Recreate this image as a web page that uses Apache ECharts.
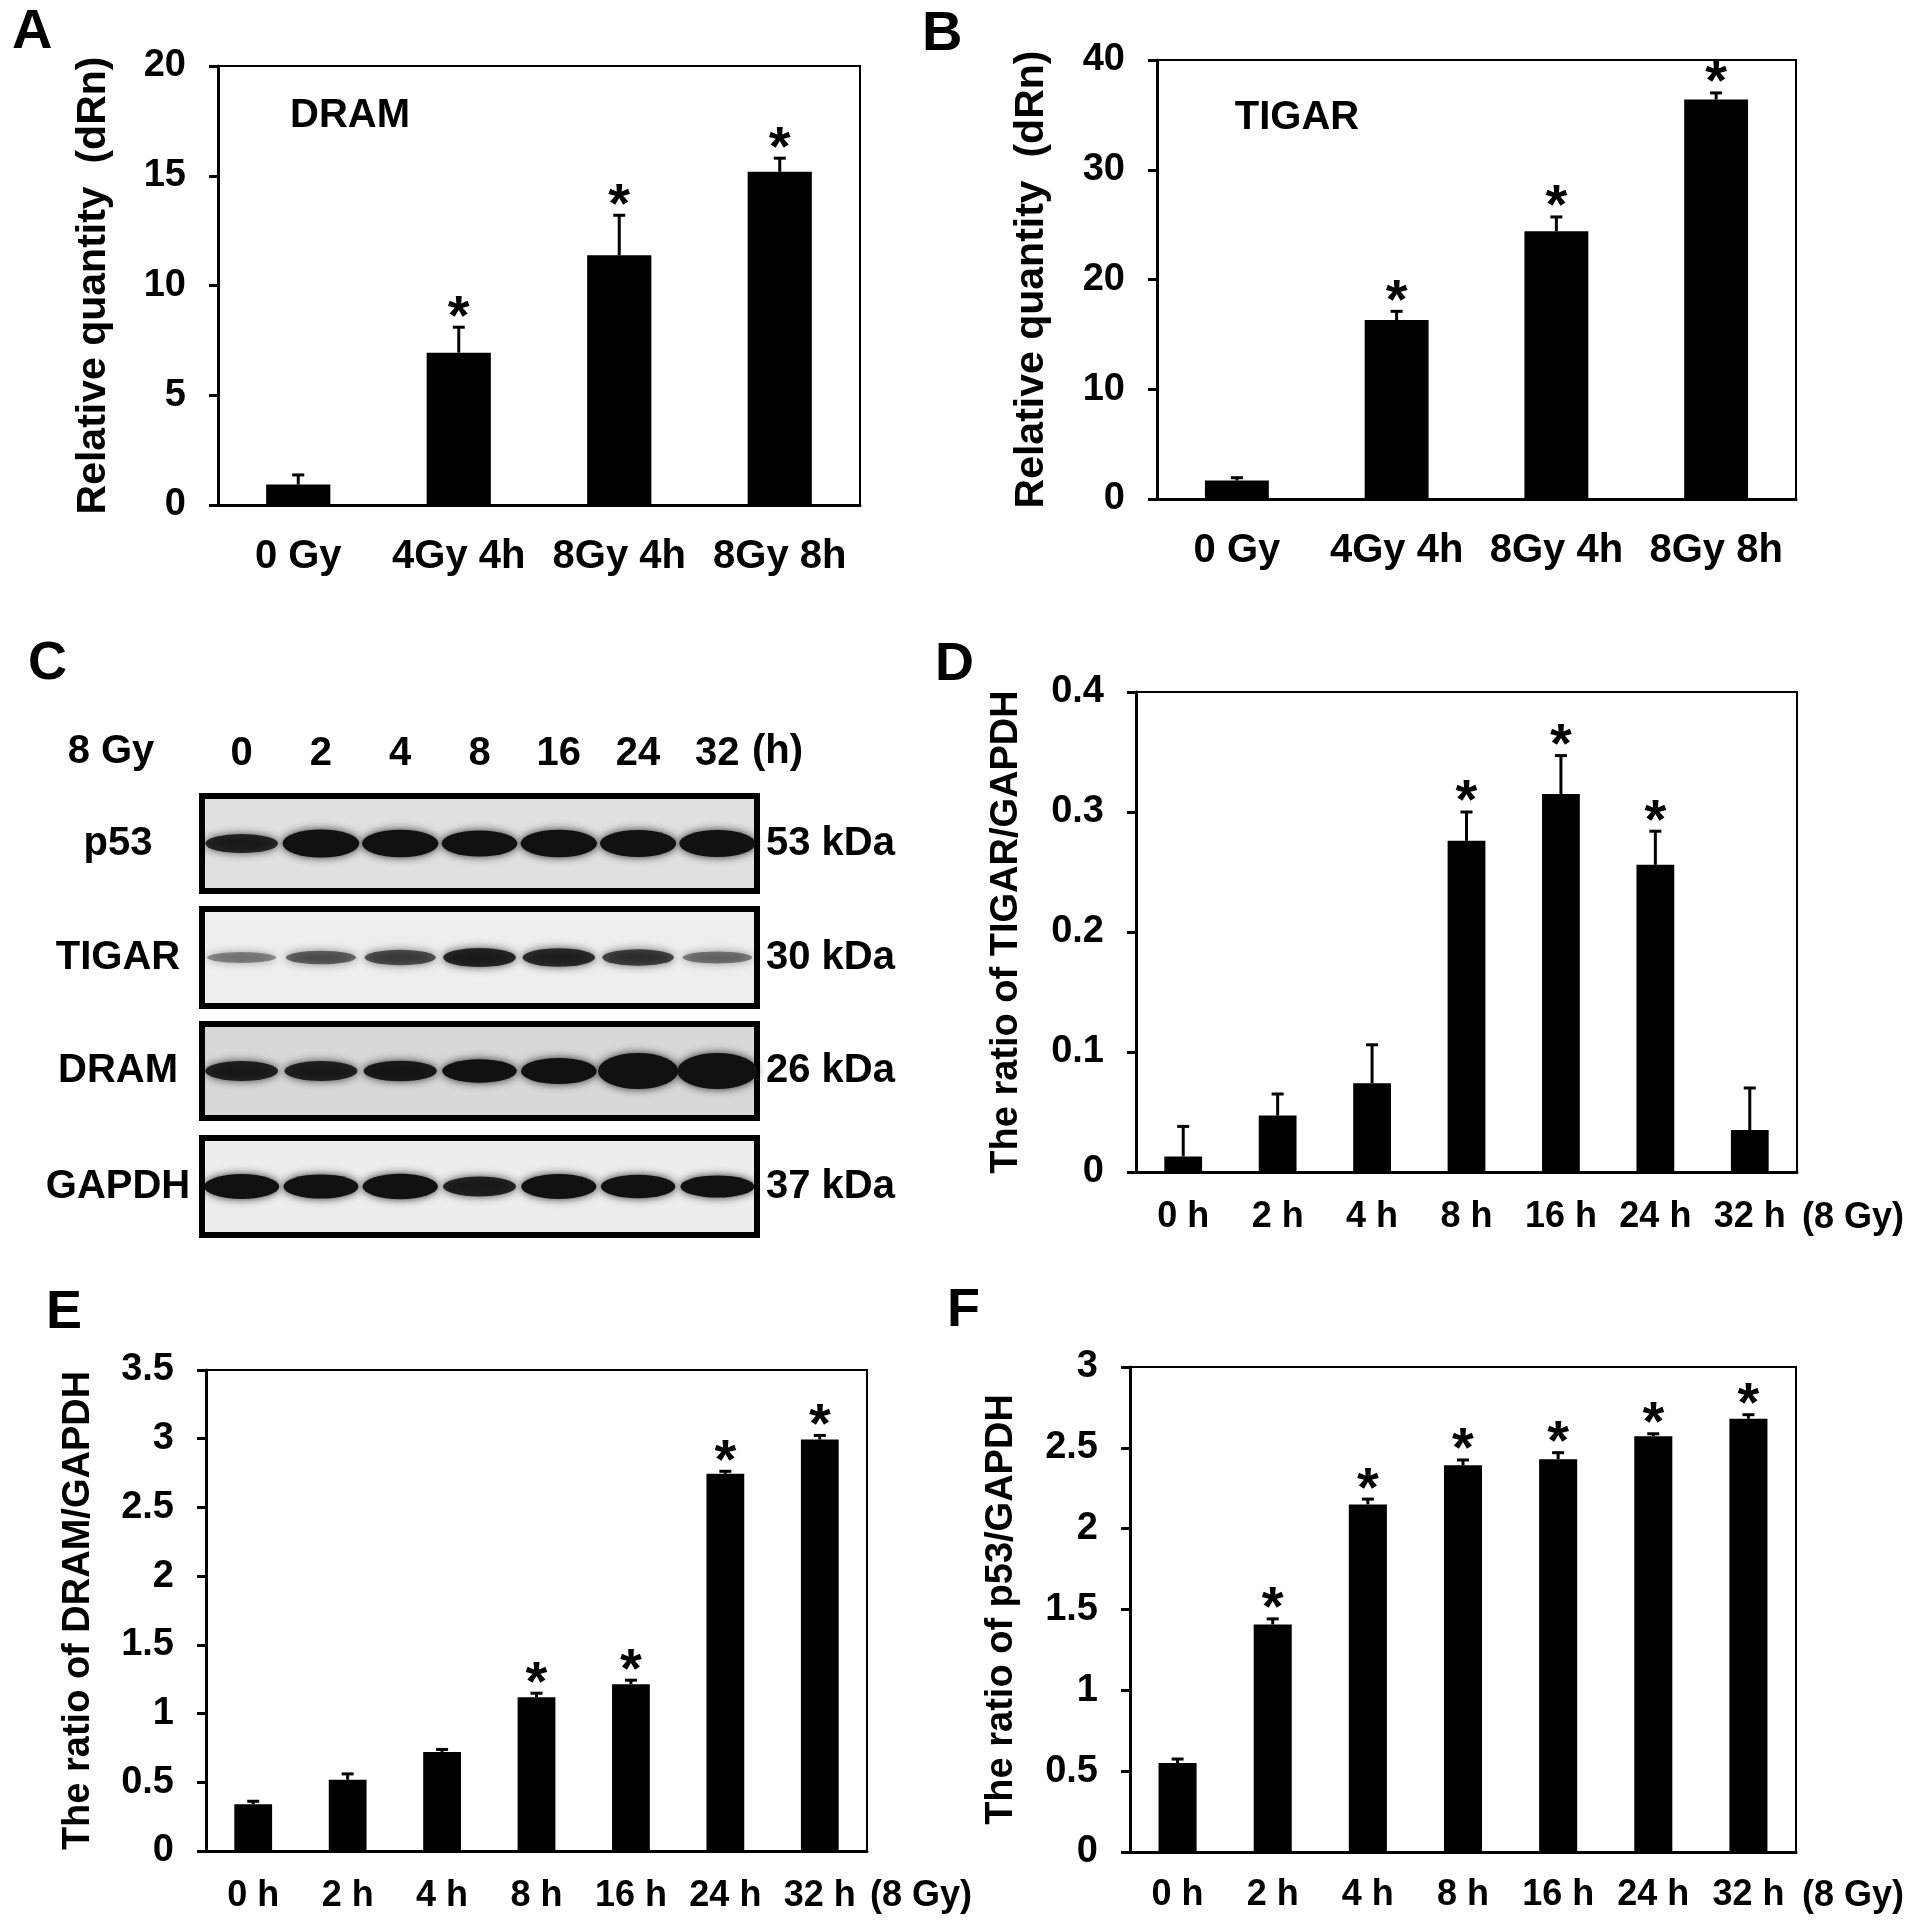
<!DOCTYPE html>
<html>
<head>
<meta charset="utf-8">
<script src="https://cdn.jsdelivr.net/npm/echarts@6/dist/echarts.min.js"></script>
<style>
  html, body { margin: 0; padding: 0; background: #fff; }
  #chart { width: 1913px; height: 1925px; }
</style>
</head>
<body>
<div id="chart"></div>
<script>
/* ---------- data ---------- */

// qPCR (A, B)
const QPCR_GROUPS = ["0 Gy", "4Gy 4h", "8Gy 4h", "8Gy 8h"];
const DRAM_QPCR = [0.93, 6.94, 11.38, 15.18];
const DRAM_QPCR_ERR = [0.44, 1.16, 1.82, 0.62];
const DRAM_QPCR_SIG = [0, 1, 1, 1];
const TIGAR_QPCR = [1.68, 16.3, 24.4, 36.4];
const TIGAR_QPCR_ERR = [0.26, 0.8, 1.3, 0.6];
const TIGAR_QPCR_SIG = [0, 1, 1, 1];

// densitometry (D, E, F)
const TIME_POINTS = ["0 h", "2 h", "4 h", "8 h", "16 h", "24 h", "32 h"];
const TIGAR_RATIO = [0.013, 0.047, 0.074, 0.276, 0.315, 0.256, 0.035];
const TIGAR_RATIO_ERR = [0.025, 0.018, 0.032, 0.024, 0.032, 0.028, 0.035];
const TIGAR_RATIO_SIG = [0, 0, 0, 1, 1, 1, 0];
const DRAM_RATIO = [0.341, 0.519, 0.721, 1.119, 1.214, 2.745, 2.994];
const DRAM_RATIO_ERR = [0.021, 0.042, 0.018, 0.029, 0.029, 0.018, 0.03];
const DRAM_RATIO_SIG = [0, 0, 0, 1, 1, 1, 1];
const P53_RATIO = [0.55, 1.407, 2.15, 2.392, 2.43, 2.571, 2.68];
const P53_RATIO_ERR = [0.025, 0.035, 0.033, 0.033, 0.04, 0.016, 0.025];
const P53_RATIO_SIG = [0, 1, 1, 1, 1, 1, 1];

// western blot (C) - relative band strength per lane
const BLOT_LANES = ["0", "2", "4", "8", "16", "24", "32"];
const BLOT_PROTEINS = ["p53", "TIGAR", "DRAM", "GAPDH"];
const BLOT_SIZES = ["53 kDa", "30 kDa", "26 kDa", "37 kDa"];
const P53_BANDS = [0.4, 0.72, 0.7, 0.65, 0.7, 0.68, 0.68];
const TIGAR_BANDS = [0.1, 0.2, 0.26, 0.4, 0.38, 0.3, 0.14];
const DRAM_BANDS = [0.42, 0.42, 0.45, 0.55, 0.65, 1.0, 1.0];
const GAPDH_BANDS = [0.6, 0.58, 0.62, 0.42, 0.6, 0.55, 0.5];

/* ---------- chart ---------- */

const FONT = '"Liberation Sans", Arial, sans-serif';
const chart = echarts.init(document.getElementById("chart"));

const grids = [], xAxes = [], yAxes = [], series = [], texts = [];

function txt(str, x, y, size, align) {
    texts.push({
        type: "text", x, y, silent: true,
        style: {
            text: str, fontSize: size, fontWeight: "bold", fontFamily: FONT,
            fill: "#000", align: align || "left", verticalAlign: "middle",
        },
    });
}

// upper error bar + significance star
function errRender(params, api) {
    const x = api.value(0), v = api.value(1), e = api.value(2), s = api.value(3);
    const base = api.coord([x, v]);
    const top = api.coord([x, v + e]);
    const ls = { stroke: "#000", lineWidth: 3 };
    const children = [
        { type: "line", shape: { x1: base[0], y1: base[1], x2: top[0], y2: top[1] }, style: ls },
        { type: "line", shape: { x1: top[0] - 6, y1: top[1], x2: top[0] + 6, y2: top[1] }, style: ls },
    ];
    if (s) {
        children.push({
            type: "text", x: top[0], y: top[1] - 9,
            style: {
                text: "*", fontSize: 56, fontWeight: "bold", fontFamily: FONT,
                fill: "#000", align: "center", verticalAlign: "middle",
            },
        });
    }
    return { type: "group", children };
}

function addBarPanel(box, cats, vals, errs, sig, y, xFont, xMargin) {
    const gi = grids.length;
    grids.push({
        left: box[0], top: box[1], width: box[2], height: box[3],
        show: true, borderColor: "#000", borderWidth: 2,
    });
    const line = { color: "#000", width: 3 };
    xAxes.push({
        gridIndex: gi, type: "category", data: cats,
        axisLine: { lineStyle: line },
        axisTick: { length: 12, interval: 0, lineStyle: line },
        axisLabel: {
            interval: 0, color: "#000", fontSize: xFont, fontWeight: "bold",
            fontFamily: FONT, margin: xMargin,
        },
    });
    yAxes.push({
        gridIndex: gi, type: "value", min: 0, max: y.max, interval: y.step,
        axisLine: { show: true, lineStyle: line },
        axisTick: { show: true, length: 9, lineStyle: line },
        splitLine: { show: false },
        axisLabel: { color: "#000", fontSize: 38, fontWeight: "bold", fontFamily: FONT, margin: 32 },
        name: y.name, nameLocation: "middle", nameGap: y.gap,
        nameTextStyle: { color: "#000", fontSize: y.nameSize, fontWeight: "bold", fontFamily: FONT },
    });
    const ai = yAxes.length - 1;
    series.push({
        type: "bar", xAxisIndex: ai, yAxisIndex: ai, data: vals,
        barWidth: "40%", itemStyle: { color: "#000" }, silent: true, z: 2,
    });
    series.push({
        type: "custom", xAxisIndex: ai, yAxisIndex: ai, silent: true, z: 3,
        data: vals.map((v, i) => [i, v, errs[i], sig[i]]),
        encode: { x: 0, y: 1 },
        renderItem: errRender,
    });
}

function addBlotRow(i, box, bands, bg) {
    const gi = grids.length;
    grids.push({
        left: box[0], top: box[1], width: box[2], height: box[3],
        show: true, borderColor: "#000", borderWidth: 6, backgroundColor: bg,
    });
    const lbl = { color: "#000", fontSize: 40, fontWeight: "bold", fontFamily: FONT };
    xAxes.push({
        gridIndex: gi, type: "category", data: BLOT_LANES, position: "top",
        axisLine: { show: false }, axisTick: { show: false },
        axisLabel: Object.assign({ show: i === 0, interval: 0, margin: 22 }, lbl),
    });
    const xi = xAxes.length - 1;
    yAxes.push({
        gridIndex: gi, type: "category", data: [BLOT_PROTEINS[i]],
        axisLine: { show: false }, axisTick: { show: false },
        axisLabel: Object.assign({ align: "center", margin: 84 }, lbl),
    });
    const yi = yAxes.length - 1;
    yAxes.push({
        gridIndex: gi, type: "category", data: [BLOT_SIZES[i]], position: "right",
        axisLine: { show: false }, axisTick: { show: false },
        axisLabel: Object.assign({ align: "left", margin: 9 }, lbl),
    });
    series.push({
        type: "scatter", xAxisIndex: xi, yAxisIndex: yi, silent: true,
        symbol: "circle",
        symbolSize: v => [68 + 12 * v[2], 8 + 28 * v[2]],
        data: bands.map((b, j) => ({
            value: [j, 0, b],
            itemStyle: { opacity: Math.min(1, 0.25 + 1.5 * b) },
        })),
        itemStyle: { color: "#111", shadowBlur: 9, shadowColor: "rgba(0,0,0,0.8)" },
    });
}

// A
addBarPanel([218, 66, 642, 439], QPCR_GROUPS, DRAM_QPCR, DRAM_QPCR_ERR, DRAM_QPCR_SIG,
    { max: 20, step: 5, name: "Relative quantity  (dRn)", gap: 104, nameSize: 41 }, 40, 32);
// B
addBarPanel([1157, 60, 639, 439], QPCR_GROUPS, TIGAR_QPCR, TIGAR_QPCR_ERR, TIGAR_QPCR_SIG,
    { max: 40, step: 10, name: "Relative quantity  (dRn)", gap: 105, nameSize: 41 }, 40, 32);
// D
addBarPanel([1136, 692, 661, 480], TIME_POINTS, TIGAR_RATIO, TIGAR_RATIO_ERR, TIGAR_RATIO_SIG,
    { max: 0.4, step: 0.1, name: "The ratio of TIGAR/GAPDH", gap: 110, nameSize: 38 }, 36, 27);
// E
addBarPanel([206, 1370, 661, 481], TIME_POINTS, DRAM_RATIO, DRAM_RATIO_ERR, DRAM_RATIO_SIG,
    { max: 3.5, step: 0.5, name: "The ratio of DRAM/GAPDH", gap: 108, nameSize: 38 }, 36, 27);
// F
addBarPanel([1130, 1367, 666, 485], TIME_POINTS, P53_RATIO, P53_RATIO_ERR, P53_RATIO_SIG,
    { max: 3, step: 0.5, name: "The ratio of p53/GAPDH", gap: 109, nameSize: 38 }, 36, 25);

// C - blot rows
addBlotRow(0, [202, 796, 555, 95], P53_BANDS, "#e0e0e0");
addBlotRow(1, [202, 909, 555, 97], TIGAR_BANDS, "#eeeeee");
addBlotRow(2, [202, 1024, 555, 94], DRAM_BANDS, "#d8d8d8");
addBlotRow(3, [202, 1138, 555, 97], GAPDH_BANDS, "#ededed");

// panel letters and annotations
txt("A", 12, 33, 56);
txt("B", 922, 35, 56);
txt("C", 28, 664, 54);
txt("D", 935, 665, 54);
txt("E", 46, 1313, 54);
txt("F", 947, 1311, 54);
txt("DRAM", 350, 116, 40, "center");
txt("TIGAR", 1297, 118, 40, "center");
txt("8 Gy", 111, 752, 40, "center");
txt("(h)", 752, 752, 40);
txt("(8 Gy)", 1802, 1218, 36);
txt("(8 Gy)", 870, 1896, 36);
txt("(8 Gy)", 1802, 1896, 36);

chart.setOption({
    animation: false,
    backgroundColor: "#fff",
    grid: grids,
    xAxis: xAxes,
    yAxis: yAxes,
    series,
    graphic: texts,
});
</script>
</body>
</html>
